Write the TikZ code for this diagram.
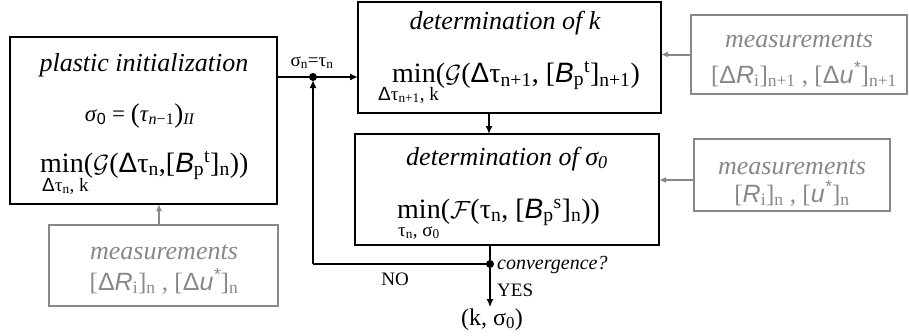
\documentclass[tikz,border=0pt]{standalone}
\usepackage{fontspec}
\setmainfont{Liberation Serif}
\newfontfamily\arialf{Liberation Sans}
\usetikzlibrary{arrows.meta}
\definecolor{mgray}{RGB}{136,136,136}
\newcommand\sa[1]{{\arialf #1}}
\newcommand\sai[1]{{\arialf\itshape #1}}
\newcommand\lo[1]{\textsubscript{#1}}
\newcommand\hi[1]{\textsuperscript{#1}}
\newcommand\Gc{$\mathcal{G}$}
\newcommand\Fc{$\mathcal{F}$}
\newcommand\bigpar[1]{{\fontsize{27}{27}\selectfont\raisebox{-1pt}{#1}}}
\begin{document}
\begin{tikzpicture}[x=1pt,y=-1pt,
  box/.style={draw=black,line width=2.5pt,inner sep=0pt,outer sep=0pt,rectangle},
  gbox/.style={draw=mgray,line width=2pt,inner sep=0pt,outer sep=0pt,rectangle},
  arr/.style={line width=2pt,-{Latex[length=8pt,width=7pt]}},
  garr/.style={draw=mgray,line width=2pt,-{Latex[length=7pt,width=6pt]}},
  ttl/.style={font=\fontsize{26}{30}\selectfont\itshape,anchor=base,inner sep=0pt},
  gttl/.style={ttl,text=mgray},
  gline/.style={font=\fontsize{25}{30}\selectfont,anchor=base,inner sep=0pt,text=mgray},
  mn/.style={font=\fontsize{28}{32}\selectfont,anchor=base west,inner sep=0pt},
  sb/.style={font=\fontsize{19}{22}\selectfont,anchor=base west,inner sep=0pt},
  lab/.style={font=\fontsize{19}{22}\selectfont,inner sep=0pt},
]
\useasboundingbox (0,0) rectangle (909,335);

% boxes
\node[box,minimum width=267pt,minimum height=167pt] (pi) at (143.5,120.5) {};
\node[box,minimum width=303pt,minimum height=111pt] (dk) at (509.5,57.5) {};
\node[box,minimum width=304pt,minimum height=111pt] (ds) at (507,189.5) {};
\node[gbox,minimum width=216pt,minimum height=79pt] (m1) at (799,54.5) {};
\node[gbox,minimum width=196pt,minimum height=72pt] (m2) at (792,175) {};
\node[gbox,minimum width=229pt,minimum height=81pt] (m3) at (163.5,265.5) {};

% plastic initialization
\node[ttl] (pit) at (144,71) {plastic initialization};
\node[anchor=base,inner sep=0pt,font=\fontsize{23}{27}\selectfont] (pie) at (140,121)
  {\textit{σ}\lo{\sa{0}} = \bigpar{(}\textit{τ}\lo{\textit{n}−1}\bigpar{)}\lo{\textit{II}}};
\node[mn] (pim) at (40,172) {min(\Gc(\sa{Δ}τ\lo{n},[\sai{B}\lo{p}\hi{t}]\lo{n}))};
\node[sb] (pis) at (42,191) {\sa{Δ}τ\lo{n}, k};

% determination of k
\node[ttl] (dkt) at (505,29) {determination of k};
\node[mn] (dkm) at (392,82) {min(\Gc(\sa{Δ}τ\lo{n+1}, [\sai{B}\lo{p}\hi{t}]\lo{n+1})};
\node[sb] (dks) at (378,100) {\sa{Δ}τ\lo{n+1}, k};

% determination of sigma0
\node[ttl] (dst) at (507,165) {determination of σ\lo{0}};
\node[mn] (dsm) at (397,218) {min(\Fc(τ\lo{n}, [\sai{B}\lo{p}\hi{s}]\lo{n}))};
\node[sb] (dss) at (398,236) {τ\lo{n}, σ\lo{0}};

% measurements
\node[gttl] (m1t) at (799,47) {measurements};
\node[gline] (m1l) at (804,83) {[\sa{Δ}\sai{R}\lo{i}]\lo{n+1} , [\sa{Δ}\sai{u}\hi{\sai{*}}]\lo{n+1}};
\node[gttl] (m2t) at (792,174) {measurements};
\node[gline] (m2l) at (792,202) {[\sai{R}\lo{i}]\lo{n} , [\sai{u}\hi{\sai{*}}]\lo{n}};
\node[gttl] (m3t) at (164,259) {measurements};
\node[gline] (m3l) at (164,290) {[\sa{Δ}\sai{R}\lo{i}]\lo{n} , [\sa{Δ}\sai{u}\hi{\sai{*}}]\lo{n}};

% junctions
\coordinate (j1) at (313,77);
\coordinate (j2) at (313,264);
\coordinate (j3) at (490,264);
\coordinate (kx) at (489,0);
\coordinate (g2) at (0,180);
\coordinate (g3) at (159,0);

% labels
\node[lab,anchor=base] (sig) at (312,66) {σ\lo{n}=τ\lo{n}};
\node[lab,anchor=base] (no) at (395,285) {NO};
\node[lab,anchor=base west] (yes) at (497,296) {YES};
\node[lab,anchor=base west,font=\fontsize{20}{24}\selectfont\itshape] (conv) at (497,269) {convergence?};
\node[anchor=base,inner sep=0pt,font=\fontsize{24}{28}\selectfont] (res) at (492,325) {(k, σ\lo{0})};
\coordinate (rt) at ([yshift=1pt]res.north);

% connectors
\draw[arr] (pi.east |- j1) -- (dk.west |- j1);
\draw[arr,shorten >=3pt] (j2) -- (j1);
\draw[line width=2pt] (j3) -- (j2);
\draw[line width=2pt] (ds.south -| j3) -- (j3);
\draw[arr] (j3) -- (j3 |- rt);
\draw[arr] (dk.south -| kx) -- (ds.north -| kx);
\fill (j1) circle (4pt);
\fill (j3) circle (4pt);

\draw[garr] (m1.west) -- (dk.east |- m1.west);
\draw[garr] (m2.west |- g2) -- (ds.east |- g2);
\draw[garr] (m3.north -| g3) -- (pi.south -| g3);
\end{tikzpicture}
\end{document}
